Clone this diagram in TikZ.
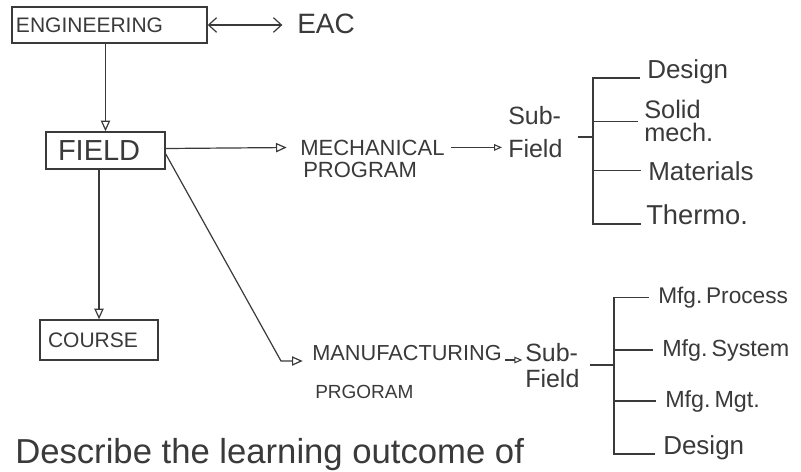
\documentclass[tikz,border=0pt]{standalone}
\usepackage{fontspec}
\setmainfont{Liberation Sans}
\usetikzlibrary{arrows.meta}
\definecolor{ink}{HTML}{3A3A3A}
\begin{document}
\begin{tikzpicture}[x=0.75pt,y=-0.75pt,
  box/.style={draw=ink, line width=1.1pt, inner ysep=0pt, align=left, text=ink},
  lbl/.style={inner sep=0pt, text=ink},
  conn/.style={draw=ink, line width=0.9pt},
  tri/.style={-{Triangle[open,length=8pt,width=7pt,line width=0.9pt]}},
  smalltri/.style={-{Triangle[open,length=6pt,width=5pt,line width=0.8pt]}},
  barbs/.style={{Straight Barb[length=6pt,width=11pt,line width=0.9pt]}-{Straight Barb[length=6pt,width=11pt,line width=0.9pt]}}]
\fill[white] (0,0) rectangle (801,472);
\useasboundingbox (0,0) rectangle (801,472);

% boxes
\node[box, text width=140.25pt, inner xsep=3pt, minimum height=27pt,
      font=\fontsize{15.75}{18}\selectfont] (eng) at (109.5,25) {ENGINEERING};
\node[box, text width=71.25pt, inner xsep=9pt, minimum height=27.75pt,
      font=\fontsize{21.75}{24}\selectfont] (field) at (105.5,150.5) {FIELD};
\node[box, text width=76.5pt, inner xsep=6pt, minimum height=30pt,
      font=\fontsize{15.75}{18}\selectfont] (course) at (99,340) {COURSE};

% texts
\node[lbl, anchor=base west, font=\fontsize{21}{24}\selectfont] (eac) at (297,33) {EAC};
\node[lbl, anchor=base west, font=\fontsize{16.5}{19}\selectfont] (mech1) at (300,155) {MECHANICAL};
\node[lbl, anchor=base west, font=\fontsize{16.5}{19}\selectfont] (mech2) at (303,177) {PROGRAM};
\node[lbl, anchor=base west, font=\fontsize{16.3}{19}\selectfont] (manu1) at (312,360) {MANUFACTURING};
\node[lbl, anchor=base west, font=\fontsize{14.25}{17}\selectfont] (manu2) at (315,398) {PRGORAM};

\node[lbl, anchor=north west, align=left, font=\fontsize{18.75}{24.75}\selectfont] (sf1) at (508,106) {Sub-\\Field};
\node[lbl, anchor=north west, align=left, font=\fontsize{18.75}{19.5}\selectfont] (sf2) at (525,343) {Sub-\\Field};

\node[lbl, anchor=base west, font=\fontsize{19.5}{22}\selectfont] (design1) at (647,78) {Design};
\node[lbl, anchor=north west, align=left, font=\fontsize{19}{17.5}\selectfont] (solid) at (644,100) {Solid\\mech.};
\node[lbl, anchor=base west, font=\fontsize{19.5}{22}\selectfont] (materials) at (648,180) {Materials};
\node[lbl, anchor=base west, font=\fontsize{20.5}{22}\selectfont] (thermo) at (646,224) {Thermo.};

\node[lbl, anchor=base west, font=\fontsize{17}{20}\selectfont] (mfgp) at (658,303) {Mfg.\,Process};
\node[lbl, anchor=base west, font=\fontsize{17.5}{20}\selectfont] (mfgs) at (662,356) {Mfg.\,System};
\node[lbl, anchor=base west, font=\fontsize{17.5}{20}\selectfont] (mfgm) at (665,407) {Mfg.\,Mgt.};
\node[lbl, anchor=base west, font=\fontsize{19.5}{22}\selectfont] (design2) at (663,454) {Design};

\node[lbl, anchor=base west, font=\fontsize{26}{30}\selectfont] (desc) at (15,463) {Describe the learning outcome of};

% coordinates
\coordinate (mcorner) at (281,361);
\coordinate (t1) at (578,137);
\coordinate (bk1) at (593,137);
\coordinate (t2) at (590,365);
\coordinate (bk2) at (614,365);

% connectors
\draw[conn, barbs, shorten >=11pt] (eng.east) -- (eng.east -| eac.west);
\draw[conn, tri] (eng.south -| field.north) -- (field.north);
\draw[conn, tri, shorten >=10pt] ([yshift=1.5pt]field.east) -- (mech1.west);
\draw[conn, smalltri, shorten <=4.5pt, shorten >=4.5pt] (mech1.east) -- (mech1.east -| sf1.west);
\draw[conn, tri] (field.south -| course.north) -- (course.north);
\draw[conn, tri, shorten >=7pt] ([yshift=-2.6pt]field.east) -- (mcorner) -- (mcorner -| manu1.west);
\draw[conn, smalltri, shorten <=2pt, shorten >=2pt] (manu1.base east) -- (manu1.base east -| sf2.west);

% brackets
\draw[conn] (t1) -- (bk1);
\draw[conn, shorten >=5pt] (bk1) |- (design1.base west);
\draw[conn, shorten >=4.5pt] (bk1) |- (solid.west);
\draw[conn, shorten >=5pt] (bk1) |- (materials.west);
\draw[conn, shorten >=4pt] (bk1) |- (thermo.base west);

\draw[conn] (t2) -- (bk2);
\draw[conn, shorten >=7pt] (bk2) |- (mfgp.west);
\draw[conn, shorten >=7pt] (bk2) |- (mfgs.west);
\draw[conn, shorten >=7pt] (bk2) |- (mfgm.west);
\draw[conn, shorten >=6pt] (bk2) |- (design2.base west);
\end{tikzpicture}
\end{document}
